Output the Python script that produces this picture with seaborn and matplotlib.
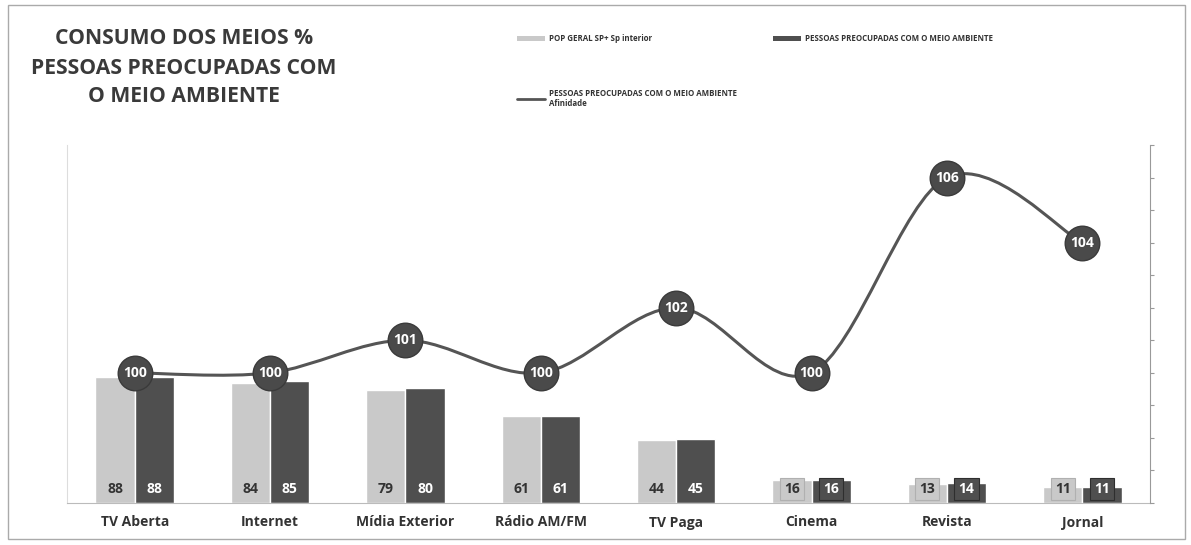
import numpy as np
import pandas as pd
import matplotlib
matplotlib.use("Agg")
import matplotlib.pyplot as plt
from matplotlib.path import Path
from matplotlib.patches import PathPatch, Rectangle, Patch
from matplotlib.lines import Line2D
import seaborn as sns

# dados
meios = ['TV Aberta', 'Internet', 'Mídia Exterior', 'Rádio AM/FM', 'TV Paga', 'Cinema', 'Revista', 'Jornal']
pop_geral = [88, 84, 79, 61, 44, 16, 13, 11]
preocupadas = [88, 85, 80, 61, 45, 16, 14, 11]
afinidade = [100, 100, 101, 100, 102, 100, 106, 104]

serie1 = 'POP GERAL SP+ Sp interior'
serie2 = 'PESSOAS PREOCUPADAS COM O MEIO AMBIENTE'
serie3 = 'PESSOAS PREOCUPADAS COM O MEIO AMBIENTE\nAfinidade'

cor_clara = '#c9c9c9'
cor_escura = '#4f4f4f'
cor_linha = '#555555'
cor_texto = '#333333'

sns.set_style('white')
plt.rcParams['font.family'] = ['Open Sans', 'DejaVu Sans']

df = pd.DataFrame({
    'meio': meios * 2,
    'valor': pop_geral + preocupadas,
    'grupo': [serie1] * len(meios) + [serie2] * len(meios),
})

fig = plt.figure(figsize=(11.91, 5.45), dpi=100)
ax = fig.add_axes([67 / 1191, 1 - 503 / 545, (1150 - 67) / 1191, (503 - 145) / 545])

sns.barplot(data=df, x='meio', y='valor', hue='grupo', palette=[cor_clara, cor_escura],
            width=0.58, gap=0, ax=ax, legend=False, saturation=1)
ax.set_ylim(0, 250)
ax.set_xlim(-0.5, len(meios) - 0.5)
ax.set_xlabel('')
ax.set_ylabel('')
ax.set_yticks([])
ax.tick_params(axis='x', length=0, pad=9)
for lbl in ax.get_xticklabels():
    lbl.set_fontweight('bold')
    lbl.set_fontsize(10)
    lbl.set_color(cor_texto)

ax.spines['top'].set_visible(False)
ax.spines['left'].set_color('#dddddd')
ax.spines['bottom'].set_color('#bbbbbb')
ax.spines['right'].set_visible(False)

# rótulos das barras
for cont, cor, txt_cor, borda in zip(ax.containers, [cor_clara, cor_escura], [cor_texto, 'white'], ['#b0b0b0', '#2e2e2e']):
    for bar in cont:
        v = bar.get_height()
        xc = bar.get_x() + bar.get_width() / 2
        ax.text(xc, 10, f'{v:.0f}', ha='center', va='center', fontsize=10, fontweight='bold',
                color=txt_cor,
                bbox=dict(boxstyle='square,pad=0.3', facecolor=cor,
                          edgecolor=borda if v < 20 else cor, linewidth=0.8))

# eixo secundário: afinidade
ax2 = ax.twinx()
ax2.set_ylim(96, 107)
ax2.set_yticks(range(96, 108))
ax2.set_yticklabels([])
ax2.tick_params(axis='y', length=3, color='#999999', direction='out')
for sp in ['top', 'left', 'bottom']:
    ax2.spines[sp].set_visible(False)
ax2.spines['right'].set_color('#999999')

# linha suavizada (Bezier estilo Excel)
xs = np.arange(len(afinidade), dtype=float)
ys = np.array(afinidade, dtype=float)
pts = np.column_stack([xs, ys])
verts = [pts[0]]
codes = [Path.MOVETO]
for i in range(len(pts) - 1):
    p0 = pts[i - 1] if i > 0 else pts[i]
    p1 = pts[i]
    p2 = pts[i + 1]
    p3 = pts[i + 2] if i + 2 < len(pts) else pts[i + 1]
    c1 = p1 + (p2 - p0) / 6
    c2 = p2 - (p3 - p1) / 6
    verts += [c1, c2, p2]
    codes += [Path.CURVE4] * 3
ax2.add_patch(PathPatch(Path(verts, codes), facecolor='none', edgecolor=cor_linha, linewidth=2.2, zorder=3))

sns.scatterplot(x=xs, y=ys, s=620, color='#4a4a4a', edgecolor='#3a3a3a', linewidth=1, ax=ax2, zorder=4, legend=False)
for x, y in zip(xs, ys):
    ax2.text(x, y, f'{y:.0f}', ha='center', va='center', color='white', fontsize=10,
             fontweight='bold', zorder=5)

# título
fig.text(184 / 1191, 1 - 68 / 545, 'CONSUMO DOS MEIOS %\nPESSOAS PREOCUPADAS COM\nO MEIO AMBIENTE',
         ha='center', va='center', fontsize=15.2, fontweight='bold', color='#3a3a3a', linespacing=1.5)

# legenda
handles = [
    Patch(facecolor=cor_clara, edgecolor='none'),
    Line2D([0], [0], color=cor_linha, linewidth=2),
    Patch(facecolor=cor_escura, edgecolor='none'),
]
labels = [serie1, serie3, serie2]
fig.legend(handles, labels, ncol=2, loc='upper left', bbox_to_anchor=(510 / 1191, 1 - 27 / 545),
           frameon=False, prop={'size': 5.7, 'weight': 'bold'}, labelcolor=cor_texto,
           handlelength=3.5, handleheight=0.7, labelspacing=5.8, columnspacing=4.6, handletextpad=0.5)

# moldura
fig.patches.append(Rectangle((8 / 1191, 6 / 545), 1177 / 1191, 534 / 545, transform=fig.transFigure,
                             fill=False, edgecolor='#aaaaaa', linewidth=1))

fig.savefig('out.png', dpi=100)
